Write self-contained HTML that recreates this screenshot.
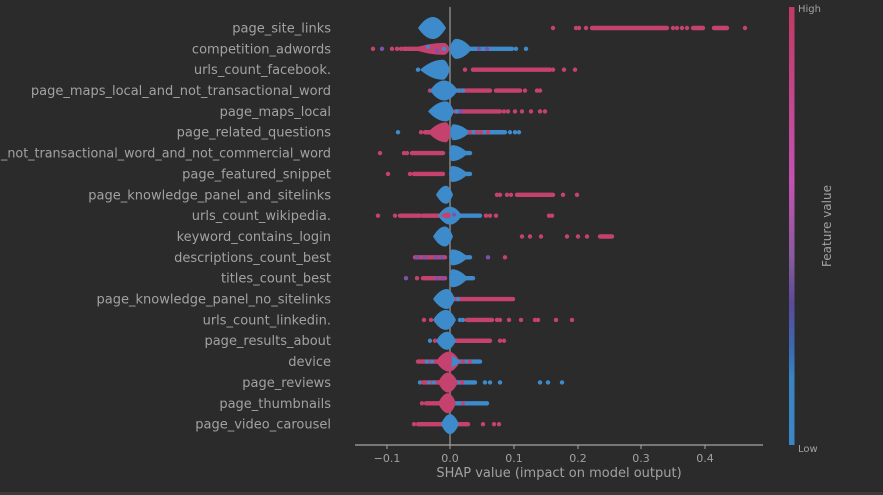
<!DOCTYPE html>
<html><head><meta charset="utf-8"><style>
html,body{margin:0;padding:0;background:#2b2b2b;}
svg{display:block}
text{font-family:"DejaVu Sans","Liberation Sans",sans-serif;fill:#a2a2a2}
.r{fill:#c6426e}.b{fill:#3e8bcb}.p{fill:#7d52ad}
.lr{stroke:#c6426e;stroke-width:4.4;stroke-linecap:round}
.lb{stroke:#3e8bcb;stroke-width:4.4;stroke-linecap:round}
.lp{stroke:#7d52ad;stroke-width:4.4;stroke-linecap:round}
</style></head><body>
<svg width="883" height="495" viewBox="0 0 883 495" xmlns="http://www.w3.org/2000/svg">
<defs>
<linearGradient id="cb" x1="0" y1="0" x2="0" y2="1">
<stop offset="0" stop-color="#c23a64"/>
<stop offset="0.3" stop-color="#c24c9e"/>
<stop offset="0.4" stop-color="#c452b2"/>
<stop offset="0.57" stop-color="#8a5a9c"/>
<stop offset="0.68" stop-color="#5a4a9a"/>
<stop offset="0.78" stop-color="#3b6ab2"/>
<stop offset="0.85" stop-color="#3a84c4"/>
<stop offset="1" stop-color="#3a86c6"/>
</linearGradient>
</defs>
<rect width="883" height="495" fill="#2b2b2b"/>
<rect y="492" width="883" height="3" fill="#3a3a3a"/>

<!-- zero line -->
<line x1="450" y1="7" x2="450" y2="445" stroke="#858585" stroke-width="1.5"/>
<!-- x axis -->
<line x1="355" y1="445" x2="763" y2="445" stroke="#a5a5a5" stroke-width="1.2"/>
<g stroke="#a5a5a5" stroke-width="1">
<line x1="387" y1="445" x2="387" y2="449"/><line x1="450" y1="445" x2="450" y2="449"/>
<line x1="514" y1="445" x2="514" y2="449"/><line x1="578" y1="445" x2="578" y2="449"/>
<line x1="641" y1="445" x2="641" y2="449"/><line x1="705" y1="445" x2="705" y2="449"/>
</g>
<g font-size="11" text-anchor="middle">
<text x="387" y="462">−0.1</text><text x="450" y="462">0.0</text><text x="514" y="462">0.1</text>
<text x="578" y="462">0.2</text><text x="641" y="462">0.3</text><text x="705" y="462">0.4</text>
</g>
<text x="559" y="477" font-size="13" text-anchor="middle">SHAP value (impact on model output)</text>

<!-- labels -->
<g font-size="13" text-anchor="end">
<text x="331" y="32.5">page_site_links</text>
<text x="331" y="53.4">competition_adwords</text>
<text x="331" y="74.2">urls_count_facebook.</text>
<text x="331" y="95">page_maps_local_and_not_transactional_word</text>
<text x="331" y="115.9">page_maps_local</text>
<text x="331" y="136.7">page_related_questions</text>
<text x="331" y="157.6" textLength="330" lengthAdjust="spacingAndGlyphs">_not_transactional_word_and_not_commercial_word</text>
<text x="331" y="178.4">page_featured_snippet</text>
<text x="331" y="199.3">page_knowledge_panel_and_sitelinks</text>
<text x="331" y="220.1">urls_count_wikipedia.</text>
<text x="331" y="241">keyword_contains_login</text>
<text x="331" y="261.8">descriptions_count_best</text>
<text x="331" y="282.7">titles_count_best</text>
<text x="331" y="303.5">page_knowledge_panel_no_sitelinks</text>
<text x="331" y="324.4">urls_count_linkedin.</text>
<text x="331" y="345.2">page_results_about</text>
<text x="331" y="366.1">device</text>
<text x="331" y="386.9">page_reviews</text>
<text x="331" y="407.8">page_thumbnails</text>
<text x="331" y="428.6">page_video_carousel</text>
</g>

<!-- row 0 -->
<g transform="translate(0,28)">
<path class="b" d="M418,0 Q425.5,-11 433,-11 Q439.5,-11 446,0 Q439.5,11 433,11 Q425.5,11 418,0Z"/>
<circle class="r" cx="553" cy="0" r="2.2"/><circle class="r" cx="576" cy="0" r="2.2"/><circle class="r" cx="579" cy="0" r="2.2"/><circle class="r" cx="586" cy="0" r="2.2"/>
<line class="lr" x1="592" y1="0" x2="667" y2="0"/>
<circle class="r" cx="673" cy="0" r="2.2"/><circle class="r" cx="677" cy="0" r="2.2"/><circle class="r" cx="682" cy="0" r="2.2"/><circle class="r" cx="687" cy="0" r="2.2"/>
<line class="lr" x1="693" y1="0" x2="703" y2="0"/><line class="lr" x1="714" y1="0" x2="727" y2="0"/>
<circle class="r" cx="745" cy="0" r="2.2"/>
</g>
<!-- row 1 -->
<g transform="translate(0,48.85)">
<circle class="r" cx="373" cy="0" r="2.2"/><circle class="p" cx="382" cy="0" r="2.2"/>
<circle class="r" cx="392" cy="0" r="2.2"/><circle class="r" cx="397" cy="0" r="2.2"/><circle class="r" cx="401" cy="0" r="2.2"/>
<line class="lr" x1="404" y1="0" x2="425" y2="0"/>
<path class="r" d="M412,0 Q428,-6 444,-6 Q447,-6 450,0 Q447,6 444,6 Q428,6 412,0Z"/>
<circle class="b" cx="428" cy="-2" r="2"/><circle class="p" cx="437" cy="2" r="2.2"/><circle class="b" cx="444" cy="0" r="2.2"/>
<line class="lb" x1="465" y1="0" x2="512" y2="0"/>
<path class="b" d="M449,0 Q452.5,-10 456,-10 Q464,-10 472,0 Q464,10 456,10 Q452.5,10 449,0Z"/>
<circle class="p" cx="479" cy="0" r="2"/><circle class="p" cx="487" cy="0" r="2"/>
<circle class="b" cx="516" cy="0" r="2.2"/><circle class="b" cx="526" cy="0" r="2.2"/>
</g>
<!-- row 2 -->
<g transform="translate(0,69.7)">
<circle class="b" cx="418" cy="0" r="2.2"/>
<path class="b" d="M420,0 Q431.5,-10 443,-10 Q446.5,-10 450,0 Q446.5,10 443,10 Q431.5,10 420,0Z"/>
<circle class="r" cx="465" cy="0" r="2.2"/>
<line class="lr" x1="473" y1="0" x2="550" y2="0"/>
<circle class="r" cx="553" cy="0" r="2.2"/><circle class="r" cx="564" cy="0" r="2.2"/><circle class="r" cx="575" cy="0" r="2.2"/>
</g>
<!-- row 3 -->
<g transform="translate(0,90.55)">
<circle class="r" cx="430" cy="0" r="2.2"/>
<line class="lr" x1="455" y1="0" x2="490" y2="0"/>
<path class="b" d="M430,0 Q437,-10 444,-10 Q451,-10 458,0 Q451,10 444,10 Q437,10 430,0Z"/>
<circle class="b" cx="459" cy="0" r="2.2"/><circle class="b" cx="463" cy="0" r="2.2"/>
<line class="lr" x1="496" y1="0" x2="520" y2="0"/>
<circle class="r" cx="525" cy="0" r="2.2"/><circle class="r" cx="537" cy="0" r="2.2"/><circle class="r" cx="540" cy="0" r="2.2"/>
</g>
<!-- row 4 -->
<g transform="translate(0,111.4)">
<line class="lr" x1="455" y1="0" x2="500" y2="0"/>
<path class="b" d="M428,0 Q437,-10 446,-10 Q450,-10 454,0 Q450,10 446,10 Q437,10 428,0Z"/>
<circle class="b" cx="457" cy="0" r="2.2"/><circle class="p" cx="461" cy="0" r="2.2"/>
<circle class="r" cx="504" cy="0" r="2.2"/><circle class="r" cx="508" cy="0" r="2.2"/><circle class="r" cx="515" cy="0" r="2.2"/><circle class="r" cx="522" cy="0" r="2.2"/><circle class="r" cx="531" cy="0" r="2.2"/><circle class="r" cx="540" cy="0" r="2.2"/><circle class="r" cx="545" cy="0" r="2.2"/>
</g>
<!-- row 5 -->
<g transform="translate(0,132.25)">
<circle class="b" cx="398" cy="0" r="2.2"/><circle class="r" cx="421" cy="0" r="2.2"/>
<line class="lr" x1="425" y1="0" x2="440" y2="0"/>
<path class="r" d="M428,0 Q437,-10 446,-10 Q448.5,-10 451,0 Q448.5,10 446,10 Q437,10 428,0Z"/>
<line class="lb" x1="465" y1="0" x2="505" y2="0"/>
<path class="b" d="M450,0 Q451.5,-8 453,-8 Q461.5,-8 470,0 Q461.5,8 453,8 Q451.5,8 450,0Z"/>
<circle class="r" cx="470" cy="0" r="2.2"/><circle class="r" cx="477" cy="0" r="2.2"/><circle class="r" cx="481" cy="0" r="2.2"/><circle class="r" cx="488" cy="0" r="2.2"/>
<circle class="b" cx="510" cy="0" r="2.2"/><circle class="b" cx="515" cy="0" r="2.2"/><circle class="b" cx="519" cy="0" r="2.2"/>
</g>
<!-- row 6 -->
<g transform="translate(0,153.1)">
<circle class="r" cx="380" cy="0" r="2.2"/><circle class="r" cx="404" cy="0" r="2.2"/><circle class="r" cx="407" cy="0" r="2.2"/>
<line class="lr" x1="412" y1="0" x2="443" y2="0"/>
<path class="b" d="M449,0 Q450.5,-8 452,-8 Q460,-8 468,0 Q460,8 452,8 Q450.5,8 449,0Z"/>
<line class="lb" x1="460" y1="0" x2="470" y2="0"/>
</g>
<!-- row 7 -->
<g transform="translate(0,173.95)">
<circle class="r" cx="388" cy="0" r="2.2"/><circle class="r" cx="410" cy="0" r="2.2"/>
<line class="lr" x1="414" y1="0" x2="443" y2="0"/>
<path class="b" d="M449,0 Q450.5,-8 452,-8 Q460,-8 468,0 Q460,8 452,8 Q450.5,8 449,0Z"/>
<line class="lb" x1="460" y1="0" x2="470" y2="0"/>
</g>
<!-- row 8 -->
<g transform="translate(0,194.8)">
<path class="b" d="M436,0 Q441,-9 446,-9 Q449.5,-9 453,0 Q449.5,9 446,9 Q441,9 436,0Z"/>
<circle class="r" cx="497" cy="0" r="2.2"/><circle class="r" cx="500" cy="0" r="2.2"/><circle class="r" cx="507" cy="0" r="2.2"/><circle class="r" cx="511" cy="0" r="2.2"/>
<line class="lr" x1="517" y1="0" x2="553" y2="0"/>
<circle class="r" cx="563" cy="0" r="2.2"/><circle class="r" cx="577" cy="0" r="2.2"/>
</g>
<!-- row 9 -->
<g transform="translate(0,215.65)">
<circle class="r" cx="378" cy="0" r="2.2"/><circle class="r" cx="395" cy="0" r="2.2"/>
<line class="lr" x1="400" y1="0" x2="420" y2="0"/><line class="lr" x1="423" y1="0" x2="445" y2="0"/>
<line class="lb" x1="455" y1="0" x2="480" y2="0"/>
<path class="b" d="M438,0 Q444,-9 450,-9 Q456,-9 462,0 Q456,9 450,9 Q444,9 438,0Z"/>
<path class="r" d="M441,0 Q445,-4 449,-3 Q452,-1 450,2 Q446,4 441,0Z"/>
<circle class="p" cx="454" cy="-1" r="2"/>
<circle class="r" cx="486" cy="0" r="2.2"/><circle class="r" cx="490" cy="0" r="2.2"/><circle class="r" cx="496" cy="0" r="2.2"/>
<circle class="r" cx="549" cy="0" r="2.2"/><circle class="r" cx="552" cy="0" r="2.2"/>
</g>
<!-- row 10 -->
<g transform="translate(0,236.5)">
<path class="b" d="M433,0 Q439,-10 445,-10 Q449,-10 453,0 Q449,10 445,10 Q439,10 433,0Z"/>
<circle class="r" cx="522" cy="0" r="2.2"/><circle class="r" cx="530" cy="0" r="2.2"/><circle class="r" cx="541" cy="0" r="2.2"/><circle class="r" cx="567" cy="0" r="2.2"/><circle class="r" cx="578" cy="0" r="2.2"/><circle class="r" cx="587" cy="0" r="2.2"/>
<line class="lr" x1="600" y1="0" x2="612" y2="0"/>
</g>
<!-- row 11 -->
<g transform="translate(0,257.35)">
<line class="lr" x1="415" y1="0" x2="445" y2="0"/>
<circle class="p" cx="417" cy="0" r="2.4"/><circle class="p" cx="425" cy="0" r="2.4"/><circle class="p" cx="436" cy="0" r="2.4"/><circle class="p" cx="442" cy="0" r="2.2"/>
<path class="b" d="M449,0 Q450.5,-8 452,-8 Q460,-8 468,0 Q460,8 452,8 Q450.5,8 449,0Z"/>
<line class="lb" x1="460" y1="0" x2="470" y2="0"/>
<circle class="p" cx="488" cy="0" r="2.2"/><circle class="r" cx="505" cy="0" r="2.2"/>
</g>
<!-- row 12 -->
<g transform="translate(0,278.2)">
<circle class="p" cx="406" cy="0" r="2.2"/><circle class="r" cx="417" cy="0" r="2.2"/>
<line class="lr" x1="423" y1="0" x2="445" y2="0"/>
<circle class="p" cx="437" cy="0" r="2.2"/><circle class="p" cx="443" cy="0" r="2.2"/>
<path class="b" d="M449,0 Q450.5,-9 452,-9 Q460,-9 468,0 Q460,9 452,9 Q450.5,9 449,0Z"/>
<line class="lb" x1="460" y1="0" x2="473" y2="0"/>
</g>
<!-- row 13 -->
<g transform="translate(0,299.05)">
<line class="lr" x1="453" y1="0" x2="513" y2="0"/>
<path class="b" d="M433,0 Q440,-10 447,-10 Q451,-10 455,0 Q451,10 447,10 Q440,10 433,0Z"/>
<circle class="b" cx="458" cy="0" r="2.2"/>
</g>
<!-- row 14 -->
<g transform="translate(0,319.9)">
<circle class="r" cx="424" cy="0" r="2.2"/><circle class="r" cx="431" cy="0" r="2.2"/>
<path class="b" d="M433,0 Q439.5,-10 446,-10 Q451,-10 456,0 Q451,10 446,10 Q439.5,10 433,0Z"/>
<circle class="b" cx="460" cy="0" r="2.2"/><circle class="b" cx="463" cy="0" r="2.2"/>
<line class="lr" x1="467" y1="0" x2="492" y2="0"/>
<circle class="r" cx="497" cy="0" r="2.2"/><circle class="r" cx="500" cy="0" r="2.2"/><circle class="r" cx="509" cy="0" r="2.2"/><circle class="r" cx="521" cy="0" r="2.2"/><circle class="r" cx="535" cy="0" r="2.2"/><circle class="r" cx="538" cy="0" r="2.2"/><circle class="r" cx="556" cy="0" r="2.2"/><circle class="r" cx="572" cy="0" r="2.2"/>
</g>
<!-- row 15 -->
<g transform="translate(0,340.75)">
<circle class="b" cx="430" cy="0" r="2.2"/><circle class="r" cx="435" cy="0" r="2.2"/>
<line class="lr" x1="453" y1="0" x2="490" y2="0"/>
<path class="b" d="M436,0 Q441.5,-9 447,-9 Q451.5,-9 456,0 Q451.5,9 447,9 Q441.5,9 436,0Z"/>
<circle class="r" cx="500" cy="0" r="2.2"/><circle class="r" cx="504" cy="0" r="2.2"/>
</g>
<!-- row 16 -->
<g transform="translate(0,361.6)">
<line class="lr" x1="418" y1="0" x2="440" y2="0"/>
<circle class="b" cx="427" cy="0" r="2.2"/><circle class="b" cx="432" cy="0" r="2"/>
<line class="lb" x1="455" y1="0" x2="480" y2="0"/>
<path class="r" d="M436,0 Q442.5,-10 449,-10 Q454.5,-10 460,0 Q454.5,10 449,10 Q442.5,10 436,0Z"/>
<path class="b" d="M451,-6 Q456,-4 460,0 Q456,4 451,6 Q453,0 451,-6Z"/>
<circle class="r" cx="463" cy="0" r="2.2"/><circle class="r" cx="470" cy="0" r="2.2"/>
</g>
<!-- row 17 -->
<g transform="translate(0,382.45)">
<circle class="b" cx="420" cy="0" r="2.2"/>
<line class="lr" x1="423" y1="0" x2="440" y2="0"/>
<circle class="b" cx="429" cy="0" r="2"/><circle class="b" cx="434" cy="0" r="2"/>
<line class="lb" x1="455" y1="0" x2="475" y2="0"/>
<path class="r" d="M438,0 Q443,-10 448,-10 Q453,-10 458,0 Q453,10 448,10 Q443,10 438,0Z"/>
<circle class="r" cx="462" cy="0" r="2.2"/>
<circle class="b" cx="485" cy="0" r="2.2"/><circle class="b" cx="490" cy="0" r="2.2"/><circle class="b" cx="500" cy="0" r="2.2"/>
<circle class="b" cx="540" cy="0" r="2.2"/><circle class="b" cx="548" cy="0" r="2.2"/><circle class="b" cx="562" cy="0" r="2.2"/>
</g>
<!-- row 18 -->
<g transform="translate(0,403.3)">
<circle class="r" cx="422" cy="0" r="2.2"/>
<line class="lr" x1="426" y1="0" x2="447" y2="0"/>
<line class="lb" x1="452" y1="0" x2="487" y2="0"/>
<path class="r" d="M438,0 Q443,-10 448,-10 Q452,-10 456,0 Q452,10 448,10 Q443,10 438,0Z"/>
<circle class="r" cx="463" cy="0" r="2"/>
</g>
<!-- row 19 -->
<g transform="translate(0,424.15)">
<circle class="r" cx="414" cy="0" r="2.2"/>
<line class="lr" x1="418" y1="0" x2="447" y2="0"/>
<line class="lr" x1="455" y1="0" x2="468" y2="0"/>
<path class="b" d="M441,0 Q445.5,-10 450,-10 Q454.5,-10 459,0 Q454.5,10 450,10 Q445.5,10 441,0Z"/>
<circle class="r" cx="483" cy="0" r="2.2"/><circle class="r" cx="494" cy="0" r="2.2"/><circle class="r" cx="499" cy="0" r="2.2"/>
</g>

<!-- colorbar -->
<rect x="789" y="7" width="5.5" height="438" fill="url(#cb)"/>
<text x="798" y="12" font-size="10">High</text>
<text x="798" y="452" font-size="10">Low</text>
<text transform="translate(831,226) rotate(-90)" font-size="12" text-anchor="middle">Feature value</text>
</svg>
</body></html>
